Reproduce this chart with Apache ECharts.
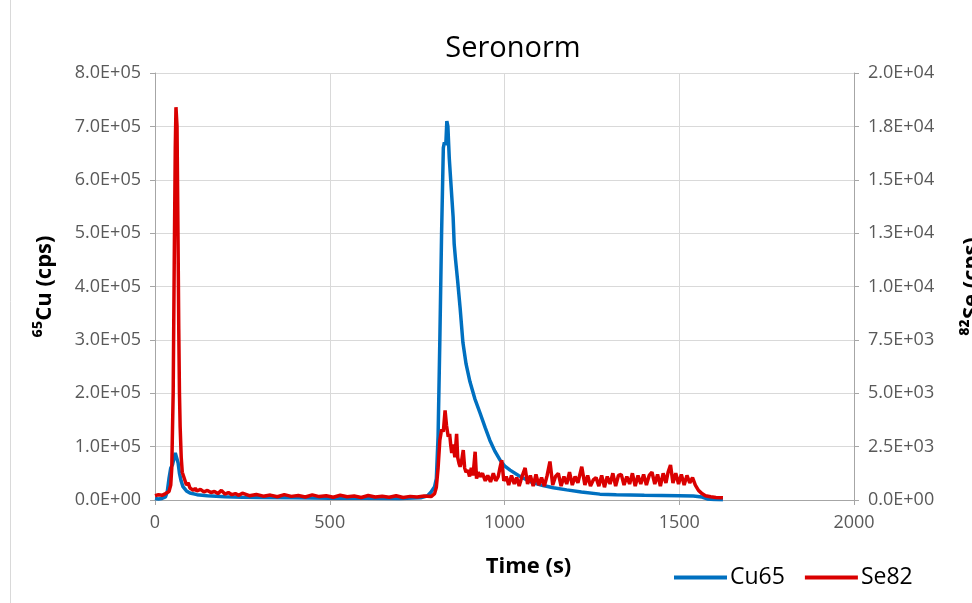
<!DOCTYPE html>
<html>
<head>
<meta charset="utf-8">
<title>Seronorm</title>
<script src="https://cdn.jsdelivr.net/npm/echarts@6/dist/echarts.min.js"></script>
<style>
  html, body { margin: 0; padding: 0; background: #fff; }
  #chart { width: 972px; height: 603px; }
</style>
</head>
<body>
<div id="chart"></div>
<script>
// Cu65 trace (left axis)
const cuTime = [0, 10, 20, 30, 35, 40, 45, 50, 55, 58, 62, 66, 70, 75, 80, 90, 100, 120, 150, 200,
  250, 300, 400, 500, 600, 700, 760, 780, 790, 800, 805, 810, 815, 820, 825, 828, 832, 835, 838, 842,
  846, 850, 853, 856, 860, 866, 873, 881, 890, 901, 915, 930, 945, 958, 972, 987, 1000, 1016, 1040, 1060,
  1082, 1110, 1140, 1178, 1220, 1273, 1320, 1400, 1450, 1500, 1540, 1565, 1580, 1600, 1625];
const cuValue = [3000, 2000, 3000, 6000, 15000, 40000, 60000, 66000, 80000, 88000, 85000, 70000, 50000, 35000, 25000, 17000, 13000, 10000, 8000, 6000,
  5000, 4500, 4000, 3500, 3500, 3000, 4000, 8000, 15000, 25000, 40000, 120000, 300000, 500000, 660000, 670000, 665000, 710000, 700000, 640000,
  600000, 560000, 530000, 480000, 450000, 410000, 360000, 295000, 255000, 222000, 190000, 163000, 135000, 112000, 92000, 75000, 64000, 56000, 46000, 39000,
  32000, 27000, 23000, 19000, 15000, 11000, 10000, 9000, 8500, 8000, 7500, 5500, 2000, 800, 300];

// Se82 trace (right axis)
const seTime = [0, 5, 10, 15, 20, 25, 30, 35, 40, 45, 48, 52, 55, 58, 60, 63, 66, 68, 70, 72,
  75, 78, 82, 86, 90, 95, 100, 105, 110, 115, 120, 130, 140, 150, 160, 170, 180, 190, 200, 210,
  220, 230, 240, 250, 270, 290, 310, 330, 350, 370, 390, 410, 430, 450, 470, 490, 510, 530, 550, 570,
  590, 610, 630, 650, 670, 690, 710, 730, 750, 770, 790, 800, 805, 810, 815, 820, 825, 830, 834, 839,
  843, 846, 849, 853, 858, 863, 866, 870, 873, 877, 882, 886, 890, 895, 900, 905, 910, 916, 920, 925,
  930, 937, 945, 952, 960, 968, 975, 982, 987, 992,
  998, 1005, 1012, 1020, 1028, 1035, 1042, 1050, 1059, 1066,
  1074, 1082, 1090, 1098, 1106, 1114, 1122, 1130, 1138, 1146, 1154, 1162, 1170, 1178, 1186, 1194, 1202, 1210, 1221, 1230,
  1238, 1246, 1254, 1262, 1270, 1278, 1286, 1294, 1302, 1310, 1318, 1326, 1334, 1342, 1350, 1358, 1366, 1374, 1382, 1390,
  1398, 1406, 1414, 1422, 1430, 1438, 1446, 1454, 1462, 1468, 1475, 1482, 1490, 1498, 1506, 1514, 1522, 1530, 1538, 1546,
  1555, 1565, 1575, 1590, 1605, 1625];
const seValue = [200, 150, 250, 180, 220, 150, 300, 250, 400, 700, 1500, 5000, 11000, 16500, 18400, 17500, 12000, 8000, 5000, 3400,
  2000, 1300, 1100, 900, 700, 800, 560, 600, 450, 550, 420, 500, 380, 450, 350, 400, 300, 450, 280, 350,
  250, 300, 220, 320, 200, 260, 180, 230, 150, 250, 170, 210, 140, 240, 160, 200, 130, 220, 150, 190,
  120, 210, 140, 180, 130, 200, 120, 170, 140, 190, 160, 300, 600, 1500, 2800, 3300, 3200, 4200, 3500, 2960,
  3100, 2600, 2200, 2600, 2000, 3100, 2000, 1700, 1560, 1800, 2340, 1500, 1300, 1400, 1100, 1500, 1150, 2260, 1000, 1300,
  1090, 1250, 900, 1150, 850, 1250, 900, 1100, 1500, 1870,
  900, 1100, 700, 1150, 750, 1050, 650, 1100, 1500, 750,
  1150, 650, 1200, 700, 1050, 650, 1150, 1800, 700, 1100, 1250, 650, 1100, 750, 1300, 700, 1100, 800, 1560, 700,
  1150, 650, 940, 1050, 650, 1150, 600, 1100, 750, 1250, 650, 1150, 1200, 700, 1100, 750, 1250, 650, 1150, 750,
  1200, 700, 1150, 1300, 750, 1200, 650, 1250, 800, 1300, 1640, 800, 1250, 750, 1200, 700, 1150, 800, 1050, 700,
  450, 300, 200, 150, 120, 100];

// axis ticks
const xTicks = [0, 500, 1000, 1500, 2000];
const cuMax = 800000, cuStep = 100000;
const seMax = 20000, seStep = 2500;

function sci(v) {
  const s = v.toExponential(1).split('e');
  const exp = parseInt(s[1], 10);
  return s[0] + 'E' + (exp < 0 ? '-' : '+') + String(Math.abs(exp)).padStart(2, '0');
}

const zip = (a, b) => a.map((t, i) => [t, b[i]]);

const chart = echarts.init(document.getElementById('chart'), null, { renderer: 'canvas' });

const labelStyle = { color: '#595959', fontSize: 18, fontFamily: 'Open Sans' };
const axisNameStyle = { color: '#000', fontSize: 22, fontWeight: 'bold', fontFamily: 'Open Sans' };
const gray = '#A6A6A6';
const gridGray = '#D9D9D9';

const option = {
  animation: false,
  backgroundColor: '#fff',
  title: {
    text: 'Seronorm',
    left: 508,
    textAlign: 'center',
    top: 29,
    textStyle: { fontSize: 29, fontWeight: 'normal', color: '#000', fontFamily: 'Open Sans' }
  },
  grid: { left: 155, right: 118, top: 73, bottom: 103, outerBoundsMode: 'none', containLabel: false },
  legend: {
    data: ['Cu65', 'Se82'],
    left: 669,
    top: 561,
    icon: 'rect',
    itemWidth: 53,
    itemHeight: 4,
    itemGap: 20,
    textStyle: { fontSize: 23, color: '#000', fontFamily: 'Open Sans', padding: [0, 0, 0, -2] }
  },
  xAxis: {
    type: 'value',
    min: xTicks[0],
    max: xTicks[xTicks.length - 1],
    interval: xTicks[1] - xTicks[0],
    name: 'Time (s)',
    nameLocation: 'middle',
    nameGap: 56,
    nameTextStyle: Object.assign({}, axisNameStyle, { padding: [0, 0, 0, 48] }),
    axisLine: { show: true, lineStyle: { color: gray } },
    axisTick: { show: true, length: 5, lineStyle: { color: gray } },
    axisLabel: Object.assign({ margin: 14, formatter: v => String(v) }, labelStyle),
    splitLine: { show: true, lineStyle: { color: gridGray, width: 1 } }
  },
  yAxis: [{
    type: 'value',
    position: 'left',
    min: 0,
    max: cuMax,
    interval: cuStep,
    name: '\u2076\u2075Cu (cps)',
    nameLocation: 'middle',
    nameRotate: 90,
    nameGap: 99,
    nameTextStyle: axisNameStyle,
    axisLine: { show: true, lineStyle: { color: gray } },
    axisTick: { show: true, length: 5, lineStyle: { color: gray } },
    axisLabel: Object.assign({ margin: 14, formatter: sci }, labelStyle),
    splitLine: { show: true, lineStyle: { color: gridGray, width: 1 } }
  }, {
    type: 'value',
    position: 'right',
    min: 0,
    max: seMax,
    interval: seStep,
    name: '\u2078\u00b2Se (cps)',
    nameLocation: 'middle',
    nameRotate: 90,
    nameGap: 107,
    nameTextStyle: axisNameStyle,
    axisLine: { show: true, lineStyle: { color: gray } },
    axisTick: { show: true, length: 5, lineStyle: { color: gray } },
    axisLabel: Object.assign({ margin: 14, formatter: sci }, labelStyle),
    splitLine: { show: false }
  }],
  graphic: [{
    type: 'line',
    shape: { x1: 10.5, y1: 0, x2: 10.5, y2: 603 },
    style: { stroke: gridGray, lineWidth: 1 },
    silent: true
  }],
  series: [{
    name: 'Cu65',
    type: 'line',
    yAxisIndex: 0,
    showSymbol: false,
    symbol: 'none',
    color: '#0070C0',
    lineStyle: { width: 3.5, color: '#0070C0' },
    data: zip(cuTime, cuValue)
  }, {
    name: 'Se82',
    type: 'line',
    yAxisIndex: 1,
    showSymbol: false,
    symbol: 'none',
    color: '#DA0000',
    lineStyle: { width: 3.5, color: '#DA0000' },
    data: zip(seTime, seValue)
  }]
};

chart.setOption(option);

window.onresize = function () {
  chart.resize();
};
</script>
</body>
</html>
